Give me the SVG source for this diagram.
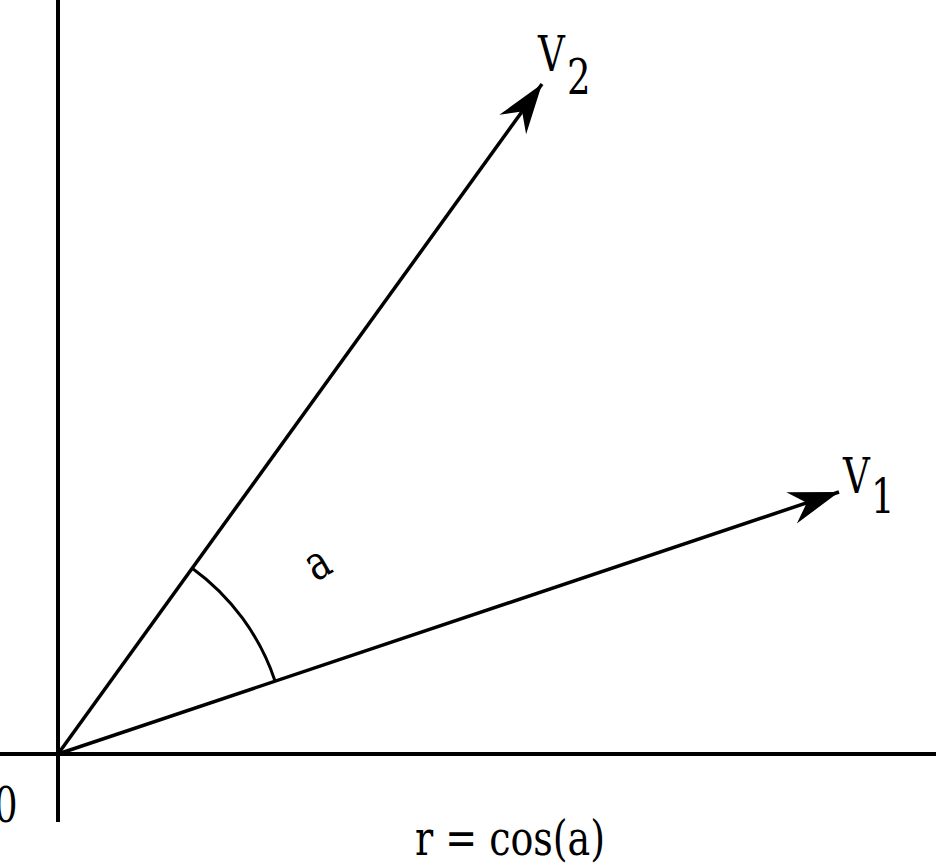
<svg xmlns="http://www.w3.org/2000/svg" width="936" height="865" viewBox="0 0 936 865">
<style>
.t{font-family:"DejaVu Serif Condensed","DejaVu Serif",serif;font-size:48px;fill:#000}
.ax{stroke:#000;stroke-width:4;fill:none}
.v{stroke:#000;stroke-width:3.5;fill:none}
.arc{stroke:#000;stroke-width:3;fill:none}
</style>
<defs>
<marker id="ah" markerUnits="userSpaceOnUse" markerWidth="60" markerHeight="40" viewBox="-55 -20 60 40" refX="0" refY="0" orient="auto">
<path d="M0,0 L-50,-16.5 L-34,0 L-50,16.5 Z" fill="#000"/>
</marker>
</defs>
<rect width="936" height="865" fill="#fff"/>
<g id="axes">
<line class="ax" x1="58" y1="0" x2="58" y2="822"/>
<line class="ax" x1="0" y1="754" x2="936" y2="754"/>
</g>
<g id="connectors">
<line class="v" x1="58" y1="754" x2="542" y2="84" marker-end="url(#ah)"/>
<line class="v" x1="58" y1="754" x2="839" y2="492" marker-end="url(#ah)"/>
<path class="arc" d="M192.2,568.2 A229,229 0 0 1 275.1,681.2"/>
</g>
<g id="v2"><text class="t" transform="translate(538,71) scale(0.86,1)">V</text><text class="t" transform="translate(567,94) scale(0.86,1)">2</text></g>
<g id="v1"><text class="t" transform="translate(843,493) scale(0.86,1)">V</text><text class="t" transform="translate(871,513) scale(0.86,1)">1</text></g>
<g id="angle"><text class="t" text-anchor="middle" transform="translate(320,568) rotate(-30) scale(0.86,1)" y="10">a</text></g>
<g id="origin"><text class="t" transform="translate(-6,822) scale(0.86,1)">0</text></g>
<g id="formula"><text class="t" transform="translate(415,855) scale(0.88,1)">r = cos(a)</text></g>
</svg>
